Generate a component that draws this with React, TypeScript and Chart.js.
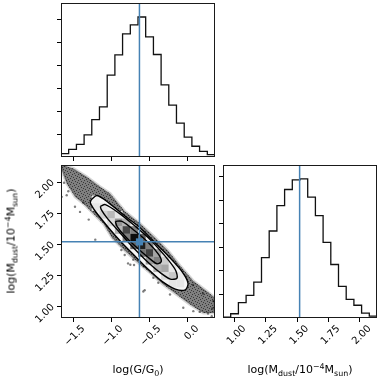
import React, { useEffect, useRef } from "react";
import { Chart, registerables } from "chart.js";

Chart.register(...registerables);

// ---------- data ----------
const gRange = [-1.662, 0.364]; // log(G/G0) axis range
const mRange = [0.908, 2.138]; // log(Mdust/1e-4 Msun) axis range

const gEdges = [-1.662, -1.561, -1.459, -1.358, -1.257, -1.156, -1.054, -0.953, -0.852, -0.75, -0.649, -0.548, -0.446, -0.345, -0.244, -0.143, -0.041, 0.06, 0.161, 0.263, 0.364];
const gCounts = [15, 33, 55, 97, 163, 219, 358, 446, 538, 578, 612, 525, 448, 315, 227, 148, 87, 47, 25, 10];

const mEdges = [0.908, 0.9695, 1.031, 1.0925, 1.154, 1.2155, 1.277, 1.3385, 1.4, 1.4615, 1.523, 1.5845, 1.646, 1.7075, 1.769, 1.8305, 1.892, 1.9535, 2.015, 2.0765, 2.138];
const mCounts = [4, 18, 65, 96, 152, 256, 369, 477, 545, 586, 590, 513, 434, 321, 227, 134, 79, 54, 21, 8];

const gTicks = [-1.5, -1.0, -0.5, 0.0];
const gTickLabels = ["\u22121.5", "\u22121.0", "\u22120.5", "0.0"];
const mTicks = [1.0, 1.25, 1.5, 1.75, 2.0];
const mTickLabels = ["1.00", "1.25", "1.50", "1.75", "2.00"];
const histTicks = [100, 200, 300, 400, 500, 600];

const truthG = -0.63;
const truthM = 1.52;

// scatter cloud envelope (data coordinates)
const cloudOutline = [
  [-1.649, 2.139], [-1.5, 2.11], [-1.324, 2.044], [-1.149, 1.963], [-1.017, 1.909], [-0.82, 1.764],
  [-0.622, 1.667], [-0.425, 1.554], [-0.254, 1.449], [-0.096, 1.328], [0.079, 1.205], [0.255, 1.124],
  [0.364, 1.07], [0.364, 0.949], [0.211, 0.949], [0.036, 1.016], [-0.139, 1.097], [-0.316, 1.177],
  [-0.491, 1.272], [-0.662, 1.36], [-0.833, 1.457], [-0.991, 1.554], [-1.105, 1.667], [-1.237, 1.748],
  [-1.368, 1.828], [-1.478, 1.882], [-1.587, 1.99], [-1.653, 2.097], [-1.649, 2.139],
];

// isolated samples outside the dense cloud
const strayPoints = [
  [-1.622, 1.995], [-1.566, 1.927], [-1.368, 1.834], [-0.579, 1.121], [-0.711, 1.377], [-0.561, 1.132],
  [-0.78, 1.347], [-0.701, 1.334], [-0.824, 1.415], [-0.868, 1.455], [0.163, 0.957], [0.272, 0.944],
  [0.329, 0.984], [0.075, 1.173], [0.207, 1.105], [-1.587, 1.895], [-1.478, 1.802], [-1.412, 1.761],
  [-1.653, 1.882], [-0.382, 1.191], [-0.447, 1.231], [-0.228, 1.097], [-0.053, 0.99], [0.079, 0.963],
  [0.342, 1.044], [0.321, 0.923], [-1.297, 1.699], [-1.211, 1.538], [-0.75, 1.336], [-0.574, 1.323],
];

// contour levels (data coordinates)
const outerContour = [
  [-1.263, 1.86], [-1.188, 1.893], [-1.034, 1.834], [-0.816, 1.726], [-0.618, 1.632], [-0.421, 1.511],
  [-0.245, 1.403], [-0.07, 1.282], [0.009, 1.189], [-0.026, 1.135], [-0.158, 1.14], [-0.333, 1.202],
  [-0.508, 1.296], [-0.684, 1.403], [-0.859, 1.511], [-1.034, 1.632], [-1.211, 1.766], [-1.276, 1.834],
  [-1.263, 1.86],
];
const middleContour = [
  [-1.145, 1.806], [-1.079, 1.82], [-0.903, 1.753], [-0.684, 1.645], [-0.487, 1.538], [-0.289, 1.403],
  [-0.158, 1.296], [-0.136, 1.229], [-0.224, 1.221], [-0.376, 1.282], [-0.553, 1.377], [-0.728, 1.484],
  [-0.903, 1.605], [-1.057, 1.713], [-1.132, 1.78], [-1.145, 1.806],
];
const innerContour = [
  [-0.947, 1.685], [-0.859, 1.685], [-0.684, 1.605], [-0.508, 1.511], [-0.376, 1.417], [-0.342, 1.363],
  [-0.399, 1.344], [-0.53, 1.403], [-0.684, 1.484], [-0.837, 1.578], [-0.925, 1.645], [-0.947, 1.685],
];

// 2-D histogram cells (bin indices into gEdges / mEdges) and their darkness
const cellCols = [4, 4, 5, 5, 6, 6, 7, 7, 7, 8, 8, 8, 9, 9, 9, 10, 10, 10, 11, 11, 11, 12, 12, 12, 13, 13, 13, 14, 14, 14, 15, 15];
const cellRows = [15, 14, 14, 13, 13, 12, 13, 12, 11, 12, 11, 10, 11, 10, 9, 10, 9, 8, 9, 8, 7, 8, 7, 6, 7, 6, 5, 6, 5, 4, 5, 4];
const cellShades = [0.06, 0.1, 0.1, 0.18, 0.28, 0.15, 0.1, 0.42, 0.3, 0.3, 0.72, 0.5, 0.5, 0.95, 0.6, 0.62, 0.88, 0.55, 0.5, 0.75, 0.4, 0.35, 0.5, 0.3, 0.2, 0.35, 0.15, 0.1, 0.22, 0.1, 0.08, 0.1];

// ---------- styling ----------
const FONT = "'DejaVu Sans', 'Liberation Sans', sans-serif";
const W = 381;
const H = 379;
const TRUTH = "#4682b4";

const pts = (arr: number[][]) => arr.map(([x, y]) => ({ x, y }));

// stipple texture used to render the dense sample cloud
function stipplePattern(): CanvasPattern | string {
  const c = document.createElement("canvas");
  c.width = 6;
  c.height = 6;
  const g = c.getContext("2d");
  if (!g) return "rgba(0,0,0,0.4)";
  g.fillStyle = "rgba(0,0,0,0.55)";
  const dots = [[0, 0], [3, 1], [1, 3], [4, 4], [5, 2], [2, 5]];
  dots.forEach(([x, y]) => g.fillRect(x, y, 1, 1));
  return g.createPattern(c, "repeat") || "rgba(0,0,0,0.4)";
}

const framePlugin = {
  id: "frame",
  afterDraw(chart: any) {
    const { ctx, chartArea: a } = chart;
    ctx.save();
    ctx.strokeStyle = "#1a1a1a";
    ctx.lineWidth = 1;
    ctx.strokeRect(Math.round(a.left) + 0.5, Math.round(a.top) + 0.5, Math.round(a.right - a.left) - 1, Math.round(a.bottom - a.top) - 1);
    ctx.restore();
  },
};

function gridOpts() {
  return { display: true, drawOnChartArea: false, drawTicks: true, tickLength: 4, tickColor: "#000", tickWidth: 1, lineWidth: 1 };
}

function scaleX(min: number, max: number, ticks: number[], labels: string[], height: number, show: boolean) {
  return {
    type: "linear",
    position: "bottom",
    min,
    max,
    afterBuildTicks: (s: any) => {
      s.ticks = ticks.map((v) => ({ value: v }));
    },
    afterFit: (s: any) => {
      s.height = height;
    },
    grid: gridOpts(),
    border: { display: false },
    ticks: {
      display: show,
      autoSkip: false,
      minRotation: 45,
      maxRotation: 45,
      labelOffset: 10,
      padding: 1,
      color: "#000",
      font: { family: FONT, size: 10 },
      callback: (_v: any, i: number) => labels[i] ?? "",
    },
  };
}

function scaleY(min: number, max: number, ticks: number[], labels: string[], width: number, show: boolean) {
  return {
    type: "linear",
    position: "left",
    min,
    max,
    afterBuildTicks: (s: any) => {
      s.ticks = ticks.map((v) => ({ value: v }));
    },
    afterFit: (s: any) => {
      s.width = width;
    },
    grid: gridOpts(),
    border: { display: false },
    ticks: {
      display: show,
      autoSkip: false,
      minRotation: 45,
      maxRotation: 45,
      labelOffset: -1,
      padding: 4,
      color: "#000",
      font: { family: FONT, size: 10 },
      callback: (_v: any, i: number) => labels[i] ?? "",
    },
  };
}

function baseOptions(padding: any, x: any, y: any) {
  return {
    responsive: false,
    animation: false,
    events: [],
    layout: { padding },
    plugins: { legend: { display: false }, tooltip: { enabled: false } },
    elements: { point: { radius: 0 }, line: { tension: 0 } },
    scales: { x, y },
  };
}

function histData(edges: number[], counts: number[]) {
  const d = counts.map((c, i) => ({ x: edges[i], y: c }));
  d.push({ x: edges[edges.length - 1], y: counts[counts.length - 1] });
  return d;
}

export default function App() {
  const r1 = useRef<HTMLCanvasElement>(null);
  const r2 = useRef<HTMLCanvasElement>(null);
  const r3 = useRef<HTMLCanvasElement>(null);

  useEffect(() => {
    const charts: Chart[] = [];

    // top-left: histogram of log(G/G0)
    const gMax = 1.1 * Math.max(...gCounts);
    charts.push(
      new Chart(r1.current as HTMLCanvasElement, {
        type: "line",
        data: {
          datasets: [
            { data: histData(gEdges, gCounts), stepped: true, borderColor: "#111", borderWidth: 1.3, fill: false, pointRadius: 0, order: 2 },
            { data: [{ x: truthG, y: 0 }, { x: truthG, y: gMax }], borderColor: TRUTH, borderWidth: 1.5, pointRadius: 0, order: 1 },
          ],
        },
        options: baseOptions(
          { left: 0, top: 3, right: W - 215, bottom: 0 },
          scaleX(gRange[0], gRange[1], gTicks, [], H - 157, false),
          scaleY(0, gMax, histTicks, [], 61, false)
        ) as any,
        plugins: [framePlugin],
      })
    );

    // bottom-left: 2-D distribution
    const cellData = cellCols.map((c, i) => ({
      x: (gEdges[c] + gEdges[c + 1]) / 2,
      y: (mEdges[cellRows[i]] + mEdges[cellRows[i] + 1]) / 2,
    }));
    const cellColors = cellShades.map((s) => {
      const v = Math.round(255 * (1 - s));
      return `rgb(${v},${v},${v})`;
    });
    const lineStyle = { showLine: true, tension: 0, pointRadius: 0 };
    charts.push(
      new Chart(r2.current as HTMLCanvasElement, {
        type: "line",
        data: {
          datasets: [
            { ...lineStyle, data: pts(cloudOutline), fill: "shape", backgroundColor: "rgba(0,0,0,0.5)", borderColor: "rgba(0,0,0,0.16)", borderWidth: 3, order: 21 },
            { ...lineStyle, data: pts(cloudOutline), fill: "shape", backgroundColor: stipplePattern(), borderWidth: 0, borderColor: "rgba(0,0,0,0)", order: 20 },
            { data: pts(strayPoints), showLine: false, pointRadius: 1.2, pointBackgroundColor: "rgba(0,0,0,0.5)", pointBorderWidth: 0, order: 19 },
            { ...lineStyle, tension: 0.3, data: pts(outerContour), fill: "shape", backgroundColor: "#f5f5f5", borderWidth: 0, borderColor: "rgba(0,0,0,0)", order: 18 },
            { ...lineStyle, tension: 0.3, data: pts(middleContour), fill: "shape", backgroundColor: "#eeeeee", borderWidth: 0, borderColor: "rgba(0,0,0,0)", order: 17 },
            { ...lineStyle, tension: 0.3, data: pts(innerContour), fill: "shape", backgroundColor: "#dddddd", borderWidth: 0, borderColor: "rgba(0,0,0,0)", order: 16 },
            { data: cellData, showLine: false, pointStyle: "rect", pointRadius: 5.45, pointBackgroundColor: cellColors, pointBorderWidth: 0, order: 15 },
            { ...lineStyle, tension: 0.3, data: pts(outerContour), fill: false, borderColor: "#000", borderWidth: 1.4, order: 14 },
            { ...lineStyle, tension: 0.3, data: pts(middleContour), fill: false, borderColor: "#000", borderWidth: 1.4, order: 13 },
            { ...lineStyle, tension: 0.3, data: pts(innerContour), fill: false, borderColor: "#000", borderWidth: 1.4, order: 12 },
            { ...lineStyle, data: [{ x: truthG, y: mRange[0] }, { x: truthG, y: mRange[1] }], borderColor: TRUTH, borderWidth: 1.5, order: 3 },
            { ...lineStyle, data: [{ x: gRange[0], y: truthM }, { x: gRange[1], y: truthM }], borderColor: TRUTH, borderWidth: 1.5, order: 2 },
            { data: [{ x: truthG, y: truthM }], showLine: false, pointStyle: "rect", pointRadius: 5, pointBackgroundColor: TRUTH, pointBorderWidth: 0, order: 1 },
          ],
        },
        options: baseOptions(
          { left: 0, top: 165, right: W - 215, bottom: 0 },
          scaleX(gRange[0], gRange[1], gTicks, gTickLabels, H - 318, true),
          scaleY(mRange[0], mRange[1], mTicks, mTickLabels, 61, true)
        ) as any,
        plugins: [framePlugin],
      })
    );

    // bottom-right: histogram of log(Mdust)
    const mMax = 1.1 * Math.max(...mCounts);
    charts.push(
      new Chart(r3.current as HTMLCanvasElement, {
        type: "line",
        data: {
          datasets: [
            { data: histData(mEdges, mCounts), stepped: true, borderColor: "#111", borderWidth: 1.3, fill: false, pointRadius: 0, order: 2 },
            { data: [{ x: truthM, y: 0 }, { x: truthM, y: mMax }], borderColor: TRUTH, borderWidth: 1.5, pointRadius: 0, order: 1 },
          ],
        },
        options: baseOptions(
          { left: 223 - 6, top: 165, right: W - 377, bottom: 0 },
          scaleX(mRange[0], mRange[1], mTicks, mTickLabels, H - 318, true),
          scaleY(0, mMax, histTicks, [], 6, false)
        ) as any,
        plugins: [framePlugin],
      })
    );

    return () => charts.forEach((c) => c.destroy());
  }, []);

  const canvasStyle: React.CSSProperties = { position: "absolute", left: 0, top: 0, width: W, height: H };
  const sub: React.CSSProperties = { fontSize: "0.72em", position: "relative", top: "0.32em" };
  const sup: React.CSSProperties = { fontSize: "0.72em", position: "relative", top: "-0.45em" };
  const title: React.CSSProperties = {
    position: "absolute",
    fontFamily: FONT,
    fontSize: 11,
    lineHeight: 1,
    whiteSpace: "nowrap",
    color: "#000",
  };

  return (
    <div style={{ position: "absolute", left: 0, top: 0, width: W, height: H, background: "#fff", overflow: "hidden" }}>
      <canvas ref={r1} width={W} height={H} style={canvasStyle} />
      <canvas ref={r2} width={W} height={H} style={canvasStyle} />
      <canvas ref={r3} width={W} height={H} style={canvasStyle} />
      <div style={{ ...title, left: 138, top: 369, transform: "translate(-50%, -50%)" }}>
        log(G/G<span style={sub}>0</span>)
      </div>
      <div style={{ ...title, left: 300, top: 369, transform: "translate(-50%, -50%)" }}>
        log(M<span style={sub}>dust</span>/10<span style={sup}>{"\u22124"}</span>M<span style={sub}>sun</span>)
      </div>
      <div style={{ ...title, left: 11, top: 241, transform: "translate(-50%, -50%) rotate(-90deg)" }}>
        log(M<span style={sub}>dust</span>/10<span style={sup}>{"\u22124"}</span>M<span style={sub}>sun</span>)
      </div>
    </div>
  );
}
